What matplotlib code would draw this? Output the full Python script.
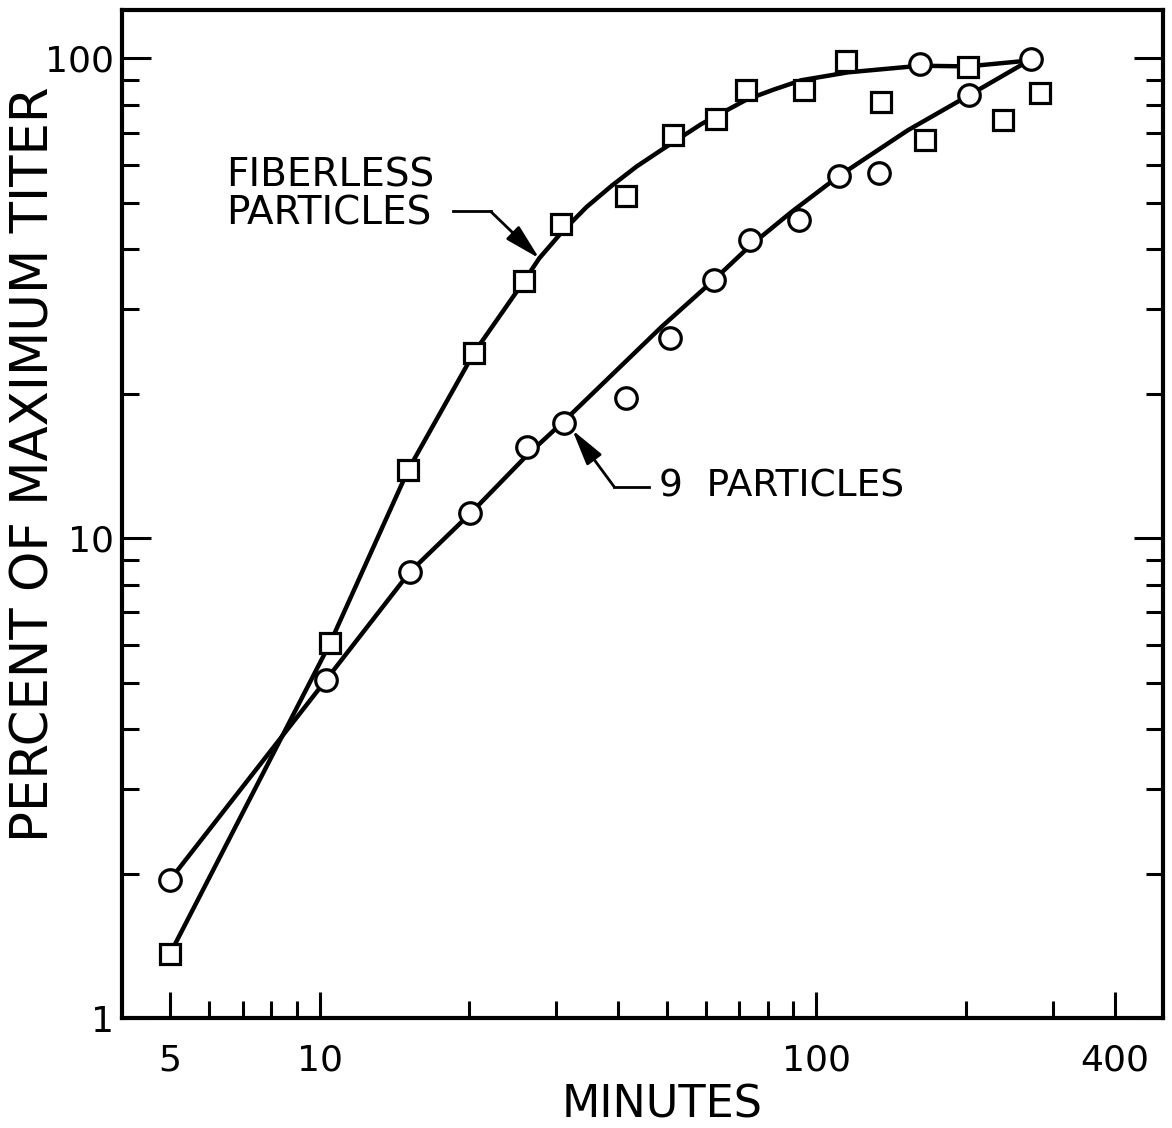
import matplotlib
matplotlib.use('Agg')
import matplotlib.pyplot as plt
from matplotlib.ticker import FixedLocator, NullFormatter

plt.rcParams['font.family'] = ['DejaVu Sans']

# measured points (minutes, percent of maximum titer)
fiberless_x = [5, 10.5, 15.1, 20.5, 25.8, 30.7, 41.4, 51.4, 63.0, 72.4, 94.6,
               115, 135, 166, 202, 238, 282]
fiberless_y = [1.36, 6.04, 13.9, 24.3, 34.3, 45.2, 51.6, 69.1, 74.6, 85.8, 85.8,
               98.6, 81.0, 67.5, 95.7, 74.3, 84.6]

nine_x = [5, 10.3, 15.2, 20.1, 26.2, 31.0, 41.4, 50.7, 62.2, 73.5, 92.5,
          111, 134, 162, 203, 271]
nine_y = [1.94, 5.06, 8.5, 11.3, 15.5, 17.4, 19.6, 26.1, 34.5, 41.8, 46.0,
          56.8, 57.6, 97.2, 83.7, 99.5]

# hand drawn fitted curves
fiberless_fit_x = [5, 10.5, 15.1, 20.5, 25.9, 27.7, 30.8, 34.5, 38.8, 43.5,
                   48.9, 58.8, 72.4, 82, 93.3, 116, 162, 202, 270]
fiberless_fit_y = [1.36, 6.04, 13.9, 24.4, 34.5, 38.3, 43.5, 49.0, 54.3, 59.5,
                   64.5, 73.0, 82.0, 86.0, 90.0, 93.5, 96.5, 96.2, 99.0]

nine_fit_x = [5, 10.3, 15.2, 20.2, 26.2, 31.0, 38.8, 48.9, 62.2, 73.5, 89.1,
              111, 153, 203, 271]
nine_fit_y = [1.94, 5.06, 8.5, 11.3, 14.9, 17.5, 21.9, 27.6, 34.5, 40.6, 47.8,
              56.8, 70.8, 83.7, 99.5]

x_major = [5, 10, 100, 400]
x_labels = ['5', '10', '100', '400']
x_minor = [6, 7, 8, 9, 20, 30, 40, 50, 60, 70, 80, 90, 200, 300]
y_major = [1, 10, 100]
y_labels = ['1', '10', '100']
y_minor = [2, 3, 4, 5, 6, 7, 8, 9, 20, 30, 40, 50, 60, 70, 80, 90]

fig = plt.figure(figsize=(11.72, 11.28), dpi=100)
ax = fig.add_axes([0.104, 0.0975, 0.8885, 0.8935])

ax.set_xscale('log')
ax.set_yscale('log')
ax.set_xlim(4, 500)
ax.set_ylim(1, 126)

lw = 3.2
ax.plot(fiberless_fit_x, fiberless_fit_y, color='black', lw=lw,
        solid_joinstyle='round', zorder=2)
ax.plot(nine_fit_x, nine_fit_y, color='black', lw=lw,
        solid_joinstyle='round', zorder=2)

ax.plot(fiberless_x, fiberless_y, linestyle='none', marker='s', markersize=14.5,
        markerfacecolor='white', markeredgecolor='black', markeredgewidth=2.3, zorder=3)
ax.plot(nine_x, nine_y, linestyle='none', marker='o', markersize=15.5,
        markerfacecolor='white', markeredgecolor='black', markeredgewidth=2.3, zorder=3)

arrow = dict(arrowstyle='-|>,head_length=1.1,head_width=0.28', color='black',
             lw=2, mutation_scale=20, shrinkA=0, shrinkB=0)

# labels with arrows
ax.text(6.48, 51.9, 'FIBERLESS\nPARTICLES', ha='left', va='center',
        fontsize=28, linespacing=1.0)
ax.plot([18.6, 22.1], [48.0, 48.0], color='black', lw=2)
ax.annotate('', xy=(27.7, 38.3), xytext=(22.1, 48.0), arrowprops=arrow)

ax.text(48.2, 12.8, '9  PARTICLES', ha='left', va='center', fontsize=27)
ax.plot([39.2, 46.0], [12.8, 12.8], color='black', lw=2)
ax.annotate('', xy=(32.3, 16.8), xytext=(39.2, 12.8), arrowprops=arrow)

ax.xaxis.set_major_locator(FixedLocator(x_major))
ax.xaxis.set_minor_locator(FixedLocator(x_minor))
ax.set_xticklabels(x_labels)
ax.xaxis.set_minor_formatter(NullFormatter())
ax.yaxis.set_major_locator(FixedLocator(y_major))
ax.yaxis.set_minor_locator(FixedLocator(y_minor))
ax.set_yticklabels(y_labels)
ax.yaxis.set_minor_formatter(NullFormatter())

ax.tick_params(axis='x', which='both', direction='in', top=False, bottom=True,
               labelsize=26, pad=18, width=2.2)
ax.tick_params(axis='x', which='major', length=19)
ax.tick_params(axis='x', which='minor', length=12)
ax.tick_params(axis='y', which='both', direction='in', left=True, right=True,
               labelsize=26, pad=6, width=2.2)
ax.tick_params(axis='y', which='major', length=21)
ax.tick_params(axis='y', which='minor', length=12)

for s in ax.spines.values():
    s.set_linewidth(3)

ax.set_xlabel('MINUTES', fontsize=32)
ax.xaxis.set_label_coords(0.519, -0.065)
ax.set_ylabel('PERCENT OF MAXIMUM TITER', fontsize=37)
ax.yaxis.set_label_coords(-0.060, 0.55)

fig.savefig('out.png', dpi=100)
plt.close()
